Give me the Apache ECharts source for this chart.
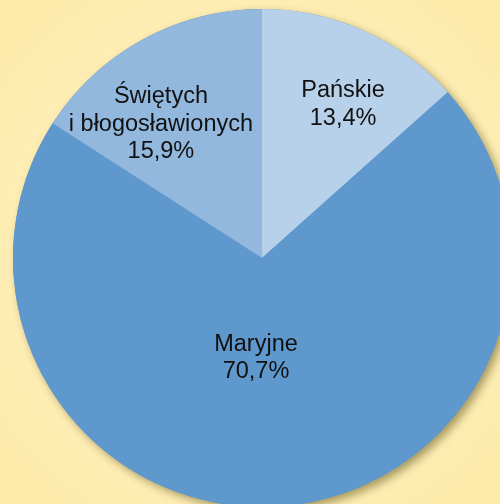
<!DOCTYPE html>
<html>
<head>
<meta charset="utf-8">
<script src="https://cdn.jsdelivr.net/npm/echarts@6/dist/echarts.min.js"></script>
<style>
  html, body { margin: 0; padding: 0; }
  #chart { width: 500px; height: 504px; }
</style>
</head>
<body>
<div id="chart"></div>
<script>
// kategorie i udziały (%)
const categories = ['Pańskie', 'Maryjne', 'Świętych\ni błogosławionych']
const shares = [13.4, 70.7, 15.9]
const sliceColors = ['#b8d1ea', '#5e98cc', '#93b8de']
// przesunięcie etykiet względem domyślnej pozycji "inside"
const labelOffsets = [[29, -37], [-16, -27], [-40, -22]]

const chart = echarts.init(document.getElementById('chart'))

const pieData = categories.map((name, i) => ({
    name: name,
    value: shares[i],
    itemStyle: { color: sliceColors[i] },
    label: { offset: labelOffsets[i] },
}))

const total = shares.reduce((a, b) => a + b, 0)

chart.setOption({
    backgroundColor: {
        type: 'radial',
        x: 0.5,
        y: 0.5,
        r: 0.75,
        colorStops: [
            { offset: 0, color: '#fff6cc' },
            { offset: 1, color: '#fde9a6' },
        ],
    },
    series: [
        {
            // cień pod całym kołem
            type: 'pie',
            silent: true,
            center: [262, 258],
            radius: [0, 249],
            z: 1,
            label: { show: false },
            labelLine: { show: false },
            itemStyle: {
                color: '#5e98cc',
                shadowBlur: 8,
                shadowOffsetX: 4,
                shadowOffsetY: 4,
                shadowColor: 'rgba(60,50,0,0.45)',
            },
            data: [{ name: '', value: total }],
        },
        {
            type: 'pie',
            center: [262, 258],
            radius: [0, 249],
            startAngle: 90,
            clockwise: true,
            z: 2,
            animation: false,
            itemStyle: { borderWidth: 0 },
            label: {
                show: true,
                position: 'inside',
                formatter: (p) => p.name + '\n' + p.value.toFixed(1).replace('.', ',') + '%',
                fontFamily: '"Liberation Sans", Arial, sans-serif',
                fontSize: 23.5,
                lineHeight: 27.5,
                color: '#111',
                align: 'center',
            },
            labelLine: { show: false },
            emphasis: { disabled: true },
            data: pieData,
        },
    ],
})
</script>
</body>
</html>
